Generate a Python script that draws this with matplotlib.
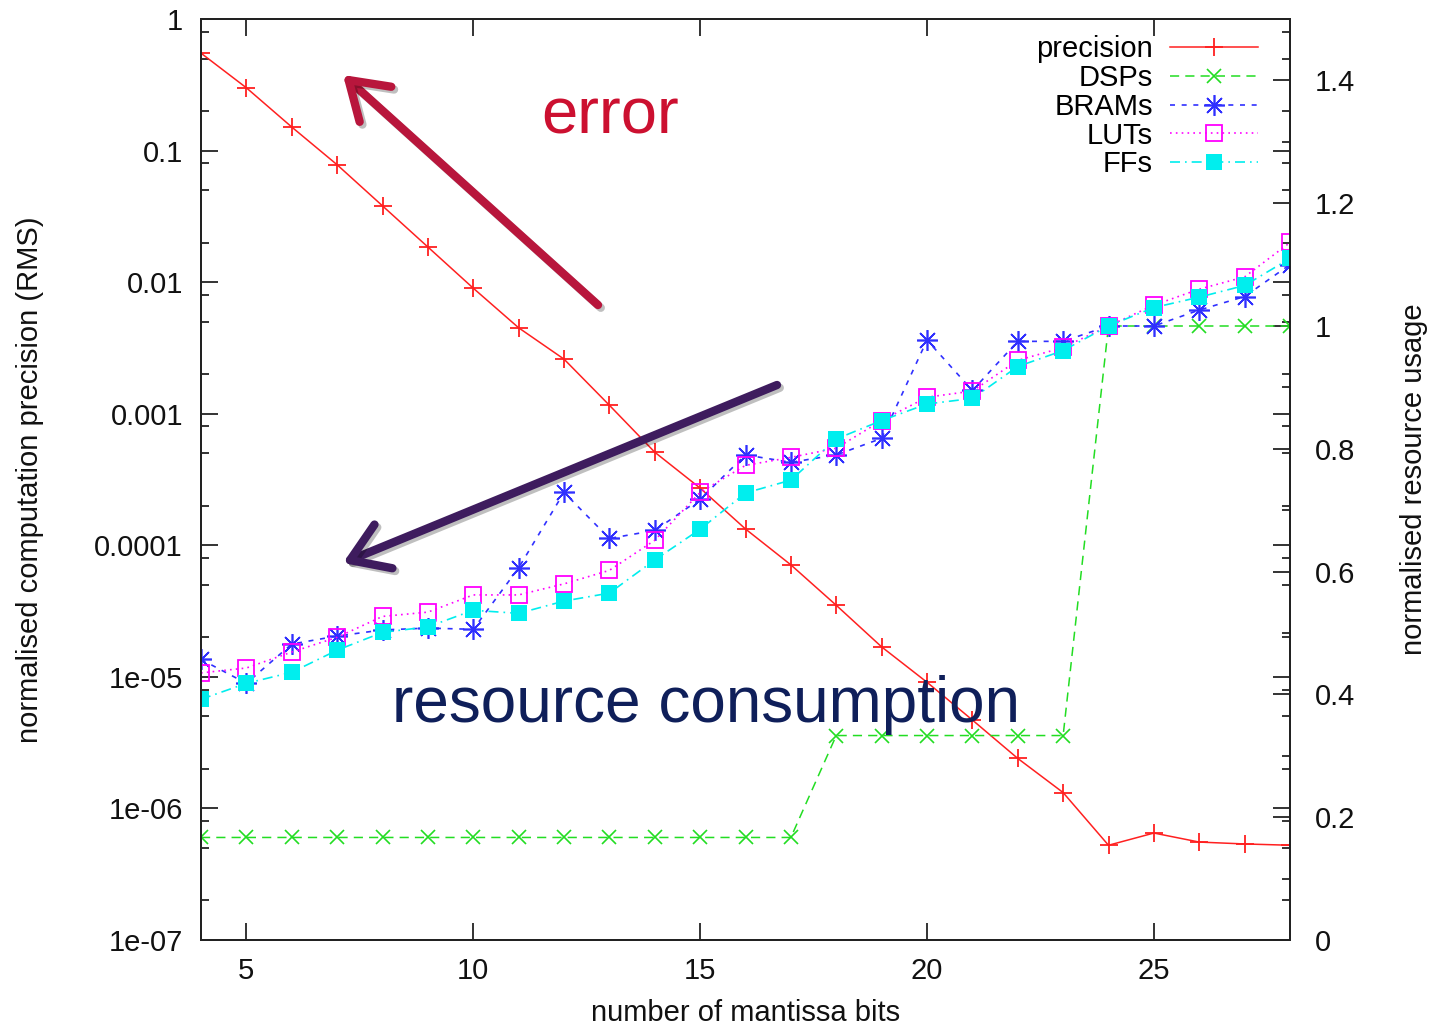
import numpy as np
import matplotlib.pyplot as plt
import matplotlib.patheffects as pe
from matplotlib.ticker import LogLocator, MultipleLocator, FixedLocator, NullFormatter

plt.rcParams['font.family'] = ['Liberation Sans', 'DejaVu Sans']

# mantissa bits
bits = np.arange(4, 29)

# RMS precision (left, log axis)
precision = [0.55, 0.30, 0.151, 0.078, 0.038, 0.0185, 0.009, 0.0045, 0.0026,
             0.00116, 0.00051, 0.000272, 0.000133, 7.1e-5, 3.5e-5, 1.69e-5,
             9.1e-6, 4.7e-6, 2.4e-6, 1.32e-6, 5.25e-7, 6.5e-7, 5.55e-7,
             5.37e-7, 5.25e-7]

# normalised resource usage (right axis)
dsps = [0.167] * 14 + [0.333] * 6 + [1.0] * 5
brams = [0.457, 0.418, 0.482, 0.495, 0.505, 0.508, 0.506, 0.606, 0.729, 0.654,
         0.667, 0.718, 0.790, 0.778, 0.790, 0.817, 0.977, 0.895, 0.975, 0.975,
         1.0, 1.0, 1.026, 1.048, 1.10]
luts = [0.435, 0.443, 0.469, 0.493, 0.527, 0.534, 0.562, 0.562, 0.580, 0.602,
        0.651, 0.729, 0.773, 0.786, 0.801, 0.846, 0.884, 0.894, 0.944, 0.965,
        1.0, 1.034, 1.06, 1.08, 1.136]
ffs = [0.392, 0.418, 0.436, 0.472, 0.501, 0.510, 0.537, 0.532, 0.552, 0.565,
       0.619, 0.669, 0.728, 0.749, 0.816, 0.846, 0.873, 0.882, 0.934, 0.960,
       1.0, 1.03, 1.047, 1.066, 1.11]

left_ticks = [1e-7, 1e-6, 1e-5, 1e-4, 1e-3, 1e-2, 1e-1, 1]
left_labels = ['1e-07', '1e-06', '1e-05', '0.0001', '0.001', '0.01', '0.1', '1']
right_ticks = [0, 0.2, 0.4, 0.6, 0.8, 1.0, 1.2, 1.4]
right_labels = ['0', '0.2', '0.4', '0.6', '0.8', '1', '1.2', '1.4']

ink = '#111111'

fig = plt.figure(figsize=(14.36, 10.26), dpi=100)
ax = fig.add_axes([201/1436, 1 - 940/1026, (1290-201)/1436, (940-19)/1026])
ax2 = ax.twinx()

# left axis
ax.set_yscale('log')
ax.set_ylim(1e-7, 1)
ax.set_xlim(4, 28)
ax.yaxis.set_minor_locator(LogLocator(base=10, subs=(2, 5, 8), numticks=20))
ax.yaxis.set_minor_formatter(NullFormatter())
ax.set_yticks(left_ticks)
ax.set_yticklabels(left_labels)
ax.xaxis.set_major_locator(FixedLocator([5, 10, 15, 20, 25]))
ax.tick_params(axis='both', which='both', direction='in', top=True, right=True,
               labelsize=21, colors=ink)
ax.tick_params(axis='y', which='major', length=12, width=1.2, pad=13)
ax.tick_params(axis='y', which='minor', length=6, width=1.2)
ax.tick_params(axis='x', which='major', length=12, width=1.2, pad=12)

# right axis
ax2.set_ylim(0, 1.5)
ax2.yaxis.set_minor_locator(MultipleLocator(0.1))
ax2.set_yticks(right_ticks)
ax2.set_yticklabels(right_labels)
ax2.tick_params(axis='y', which='both', direction='in', labelsize=21, colors=ink)
ax2.tick_params(axis='y', which='major', length=12, width=1.2, pad=18)
ax2.tick_params(axis='y', which='minor', length=6, width=1.2)

for a in (ax, ax2):
    for s in a.spines.values():
        s.set_linewidth(1.4)
        s.set_color('#222222')

l1, = ax.plot(bits, precision, color='#ff2020', lw=1.1, marker='+', ms=13,
              mew=1.3, label='precision')
l2, = ax2.plot(bits, dsps, color='#22dd22', lw=1.1, ls=(0, (6, 4)), marker='x',
               ms=10, mew=1.2, label='DSPs')
l3, = ax2.plot(bits, brams, color='#3030ff', lw=1.2, ls=(0, (3, 4)),
               marker=(8, 2, 0), ms=15, mew=1.2, label='BRAMs')
l4, = ax2.plot(bits, luts, color='#ff00ff', lw=1.2, ls=(0, (1, 2.5)), marker='s',
               ms=11, mfc='none', mew=1.3, label='LUTs')
l5, = ax2.plot(bits, ffs, color='#00eeee', lw=1.2, ls=(0, (6, 3, 1, 3)), marker='s',
               ms=12, mew=0, label='FFs')

leg = ax2.legend(handles=[l1, l2, l3, l4, l5], loc='upper right', frameon=False,
                 markerfirst=False, fontsize=21, handlelength=3.0,
                 labelspacing=0.03, handletextpad=0.6,
                 bbox_to_anchor=(0.992, 1.008), borderaxespad=0.4)

ax.set_xlabel('number of mantissa bits', fontsize=21, labelpad=10, color=ink)
ax.set_ylabel('normalised computation precision (RMS)', fontsize=21,
              labelpad=36, color=ink)
ax2.set_ylabel('normalised resource usage', fontsize=21,
               rotation=90, labelpad=32, color=ink)

# annotations
fig.text(610, 1026 - 116, 'error', color='#cc1030', fontsize=47,
         ha='center', va='center', transform=None)
fig.text(706, 1026 - 705, 'resource consumption', color='#0f1f5a', fontsize=46,
         ha='center', va='center', transform=None)

shadow = [pe.SimpleLineShadow(offset=(2, -2), alpha=0.25), pe.Normal()]
a1 = ax.annotate('', xy=(343, 1026 - 75), xytext=(598, 1026 - 305),
                 xycoords='figure pixels', textcoords='figure pixels',
                 arrowprops=dict(arrowstyle='->,head_length=1.3,head_width=0.85',
                                 lw=6, color='#b8163c', mutation_scale=20,
                                 shrinkA=0, shrinkB=0))
a1.arrow_patch.set_path_effects(shadow)
a2 = ax.annotate('', xy=(343, 1026 - 563), xytext=(777, 1026 - 385),
                 xycoords='figure pixels', textcoords='figure pixels',
                 arrowprops=dict(arrowstyle='->,head_length=1.3,head_width=0.85',
                                 lw=6, color='#3e1c5e', mutation_scale=20,
                                 shrinkA=0, shrinkB=0))
a2.arrow_patch.set_path_effects(shadow)

fig.savefig('out.png', dpi=100)
